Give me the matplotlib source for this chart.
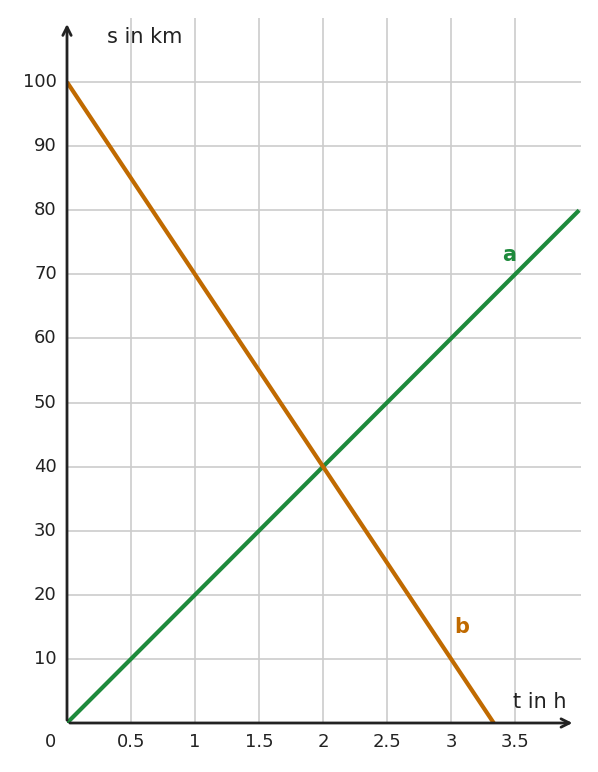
import matplotlib
matplotlib.use("Agg")
import matplotlib.pyplot as plt
import numpy as np

# data
t_a = [0, 4]
s_a = [0, 80]
t_b = [0, 10 / 3]
s_b = [100, 0]
x_ticks = [0.5, 1, 1.5, 2, 2.5, 3, 3.5]
x_labels = ["0.5", "1", "1.5", "2", "2.5", "3", "3.5"]
y_ticks = [10, 20, 30, 40, 50, 60, 70, 80, 90, 100]

green = "#1e8a3c"
orange = "#c06a00"
dark = "#222222"

fig = plt.figure(figsize=(5.98, 7.72), dpi=100)
ax = fig.add_axes([67 / 598, 49 / 772, 514 / 598, 705 / 772])
ax.set_xlim(0, 4.015)
ax.set_ylim(0, 110)

for x in x_ticks:
    ax.axvline(x, color="#cccccc", lw=1.2, zorder=0)
for y in y_ticks:
    ax.axhline(y, color="#cccccc", lw=1.2, zorder=0)

ax.plot(t_a, s_a, color=green, lw=3, solid_capstyle="butt", zorder=3)
ax.plot(t_b, s_b, color=orange, lw=3, solid_capstyle="butt", zorder=3)

ax.text(3.45, 73, "a", color=green, fontsize=15, fontweight="bold", ha="center", va="center")
ax.text(3.08, 15, "b", color=orange, fontsize=15, fontweight="bold", ha="center", va="center")

for sp in ax.spines.values():
    sp.set_visible(False)
ax.set_xticks([])
ax.set_yticks([])

# axes with arrows
ax.annotate("", xy=(3.97, 0), xytext=(0, 0),
            arrowprops=dict(arrowstyle="->", color=dark, lw=2, mutation_scale=15), annotation_clip=False)
ax.annotate("", xy=(0, 109.5), xytext=(0, 0),
            arrowprops=dict(arrowstyle="->", color=dark, lw=2, mutation_scale=15), annotation_clip=False)

for x, lab in zip(x_ticks, x_labels):
    ax.text(x, -3, lab, ha="center", va="center", fontsize=13, color=dark)
for y in y_ticks:
    ax.text(-0.08, y, str(y), ha="right", va="center", fontsize=13, color=dark)
ax.text(-0.13, -3, "0", ha="center", va="center", fontsize=13, color=dark)

ax.text(0.31, 107, "s in km", ha="left", va="center", fontsize=15, color=dark)
ax.text(3.48, 3.2, "t in h", ha="left", va="center", fontsize=15, color=dark)

fig.savefig("out.png", dpi=100)
